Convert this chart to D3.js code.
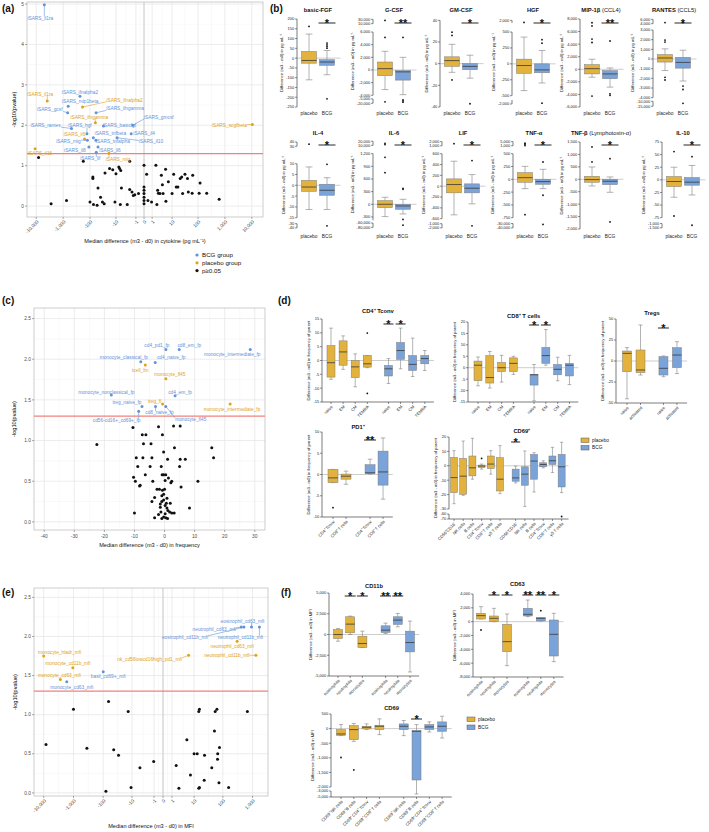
<!DOCTYPE html>
<html><head><meta charset="utf-8">
<script src="https://cdn.jsdelivr.net/npm/d3@7"></script>
<style>body{margin:0;background:#fff} text{font-family:"Liberation Sans",Arial,Helvetica,sans-serif}</style>
</head><body><svg id="c" width="709" height="832"></svg>
<script>
// ================= DATA =================
// (a) cytokine volcano
const aXTicks = [-10000,-1000,-100,-10,-1,0,1,10,100,1000,10000];
const aYTicks = [0,1,2,3,4,5];
const aBlack = [[-8200,1.20],[-2800,0.06],[-750,0.14],[-178,1.11],[-100,0.10],[-74,0.04],[-78,0.72],[-78,0.68],[-54,0.02],[-50,0.45],[-40,0.22],[-34,0.10],[-29,0.06],[-27,0.82],[-18,0.93],[-13.5,0.90],[-11,0.10],[-10,0.80],[-7.6,0.97],[-7.1,0.93],[-6.3,0.88],[-5.9,0.45],[-6.6,0.04],[-3.2,0.04],[-2.4,0.41],[-2.4,1.11],[-1.8,0.35],[-1.5,0.26],[-1.2,0.28],[-0.6,0.31],[0,1.01],[0,0.47],[0,0.39],[0,0.31],[0,0.22],[0,0.14],[0,0.06],[0.25,0.79],[0.4,0.14],[0.9,0.10],[1.76,1.01],[2.2,0.39],[2.4,0.32],[2.0,0.04],[2.9,0.31],[3.4,0.76],[3.8,0.53],[4.1,0.31],[5.3,0.91],[5.5,0.12],[7.0,0.60],[10,0.31],[11.6,0.79],[14.7,0.47],[17,0.47],[21,0.68],[24,0.72],[26,0.31],[32,0.79],[40,0.68],[43,0.35],[60,0.32],[63,0.76],[119,0.57],[110,0.32],[211,0.32],[613,0.17]];
const aBCG = [
 {n:"iSARS_il1ra",x:-5000,y:4.98},{n:"iSARS_ifnalpha2",x:-237,y:2.72},{n:"iSARS_mip1beta",x:-650,y:2.47},
 {n:"iSARS_gcsf",x:-680,y:2.31},{n:"iSARS_ifngamma",x:-59,y:2.31},{n:"iSARS_rantes",x:-490,y:1.92},
 {n:"iSARS_hgf",x:-130,y:1.79},{n:"iSARS_basicfgf",x:-31,y:1.98},{n:"iSARS_gmcsf",x:-1.6,y:2.00},
 {n:"iSARS_il4",x:-2.0,y:1.79},{n:"iSARS_tnfbeta",x:-75,y:1.69},{n:"iSARS_mig",x:-125,y:1.63},
 {n:"iSARS_tnfalpha",x:-60,y:1.63},{n:"iSARS_il10",x:-9,y:1.69},{n:"iSARS_il8",x:-110,y:1.46},
 {n:"iSARS_il6",x:-50,y:1.46},{n:"iSARS_lif",x:-58,y:1.33}];
const aPlacebo = [
 {n:"iSARS_il1ra",x:-3900,y:2.60},{n:"iSARS_ifnalpha2",x:-190,y:2.45},{n:"iSARS_ifngamma",x:-63,y:2.06},
 {n:"iSARS_il6",x:-160,y:1.66},{n:"iSARS_scgfbeta",x:10500,y:2.02},{n:"iSARS_il16",x:-11000,y:1.42},
 {n:"iSARS_mig",x:-19,y:1.31}];

// (b) cytokine box plots
const bNames = ["basic-FGF","G-CSF","GM-CSF","HGF","MIP-1β","RANTES","IL-4","IL-6","LIF","TNF-α","TNF-β","IL-10"];
const bSubs = ["","","","","(CCL4)","(CCL5)","","","","","(Lymphotoxin-α)",""];
const bGroups = ["placebo","BCG"];
const bSegDomains = [
 [[200,-250]],
 [[30000,10000],[6000,-4000],[-5000,-20000]],
 [[40,-40]],
 [[2000,1000],[500,-500],[-1000,-2000]],
 [[8000,-6000]],
 [[6000,4000],[3000,-4000],[-10000,-15000]],
 [[40,30],[10,-15],[-30,-40]],
 [[20000,10000],[1200,-380],[-60000,-80000]],
 [[2000,1000],[600,-600],[-1000,-2000]],
 [[5000,1000],[500,-750],[-30000,-40000]],
 [[1500,-2000]],
 [[75,-75],[-1000,-1500]]];
const bSegTicks = [
 [[200,150,100,50,0,-50,-100,-150,-200,-250]],
 [[30000,10000],[6000,4000,2000,0,-2000,-4000],[-5000,-20000]],
 [[40,20,0,-20,-40]],
 [[2000],[500,250,0,-250,-500],[-2000]],
 [[8000,6000,4000,2000,0,-2000,-4000,-6000]],
 [[6000,4000],[3000,2000,1000,0,-1000,-2000,-3000,-4000],[-10000,-15000]],
 [[40,30],[10,5,0,-5,-10,-15],[-30,-40]],
 [[20000,10000],[1200,900,600,300,0,-300],[-60000,-80000]],
 [[2000,1000],[600,400,200,0,-200,-400,-600],[-1000,-2000]],
 [[5000,1000],[500,250,0,-250,-500,-750],[-30000,-40000]],
 [[1500,1000,500,0,-500,-1000,-1500,-2000]],
 [[75,50,25,0,-25,-50,-75],[-1000,-1500]]];
const bPlacebo = [
 {lo:-111,q1:-26,med:-12,q3:34,hi:123,out:[162]},
 {lo:-3100,q1:-900,med:210,q3:1260,hi:2950,out:[5150,25000,-15000]},
 {lo:-8,q1:-2.5,med:2.8,q3:6.3,hi:17.8,out:[29,26,-15]},
 {lo:-420,q1:-150,med:-26,q3:74,hi:420,out:[1200]},
 {lo:-1260,q1:-740,med:100,q3:740,hi:1600,out:[7400,6900,4800,4260,-4260]},
 {lo:-1190,q1:-315,med:105,q3:455,hi:1050,out:[4500,1960,1750,-1890,-2170]},
 {lo:-11.2,q1:-2.8,med:-0.8,q3:2.3,hi:8.5,out:[35]},
 {lo:-292,q1:-79,med:0,q3:87,hi:166,out:[1114,750,15000,12000]},
 {lo:-529,q1:-123,med:31,q3:135,hi:461,out:[1500]},
 {lo:-182,q1:-58,med:32,q3:130,hi:253,out:[3500,2500,1200,-690]},
 {lo:-268,q1:-120,med:-13,q3:120,hi:495,out:[1300,697]},
 {lo:-34.5,q1:-13.3,med:-3.3,q3:6.6,hi:25,out:[56,-71.6]}];
const bBCG = [
 {lo:-85,q1:-37,med:-20,q3:-8,hi:39,out:[77,68,60,51,-208]},
 {lo:-3900,q1:-1600,med:-300,q3:-100,hi:2000,out:[5150,-8000,-12000,-16000]},
 {lo:-13.4,q1:-5.6,med:-2.5,q3:0,hi:7.8,out:[-37]},
 {lo:-300,q1:-140,med:-95,q3:0,hi:210,out:[380,325,-1800]},
 {lo:-2840,q1:-1500,med:-740,q3:-210,hi:210,out:[4500,-4150,-3900]},
 {lo:-2275,q1:-945,med:-350,q3:175,hi:910,out:[4500,-2800,-3150,-12000]},
 {lo:-11.2,q1:-4.6,med:-2.3,q3:0.5,hi:3.5,out:[9.7,-35]},
 {lo:-229,q1:-118,med:-40,q3:0,hi:118,out:[355,379,-360,-70000]},
 {lo:-326,q1:-123,med:-37,q3:43,hi:215,out:[473,-1500]},
 {lo:-182,q1:-97,med:-45,q3:0,hi:195,out:[338,-312,-32000]},
 {lo:-523,q1:-214,med:-80,q3:0,hi:94,out:[830,-1715]},
 {lo:-30,q1:-10.6,med:-4.6,q3:4.6,hi:28.5,out:[46,-1200]}];
const bSig = ["*","**","*","*","**","*","*","*","*","*","*","*"];

// (c) cell frequency volcano
const cXTicks = [-40,-30,-20,-10,0,10,20,30];
const cYTicks = [0,0.5,1,1.5,2,2.5];
const cBlack = [[-22.5,0.95],[-10.5,1.16],[-7.4,1.07],[-6.2,1.07],[-7.0,0.96],[-4.5,0.96],[-9.4,0.79],[-7.2,0.79],[-4.2,0.79],[-2.0,1.17],[-0.7,1.07],[3.0,1.18],[5.2,1.18],[-8.9,0.68],[-4.8,0.68],[-1.1,0.68],[-0.3,0.86],[1.0,0.77],[3.3,0.91],[5.2,0.77],[6.9,0.77],[5.0,0.68],[-6.4,0.58],[-10.3,0.55],[-9.7,0.50],[-8.1,0.45],[-8.3,0.44],[-3.9,0.50],[-0.8,0.58],[0.4,0.58],[1.3,0.54],[2.1,0.48],[2.4,0.50],[11.1,0.50],[5.5,0.43],[15.7,0.91],[16.3,0.79],[-10.0,0.11],[-4.2,0.25],[-3.3,0.30],[-2.5,0.40],[-1.7,0.40],[-0.9,0.32],[-0.3,0.34],[0,0.40],[-1.4,0.22],[-0.9,0.25],[-0.3,0.27],[0.2,0.20],[0.8,0.17],[1.1,0.14],[0.2,0.10],[-0.3,0.06],[-0.9,0.04],[0.4,0.05],[1.0,0.04],[-3.3,0.05],[-2.0,0.09],[-1.4,0.18],[1.7,0.12],[2.4,0.11],[3.2,0.11],[8.3,0.17],[1.9,0.23],[-0.7,0.39],[0.8,0.29],[0.6,0.23],[-1.2,0.12],[-0.3,0.58],[0.2,0.51]];
const cBCG = [
 {n:"cd4_pd1_fp",x:0.44,y:2.12},{n:"cd8_em_fp",x:4.9,y:2.12},{n:"monocyte_intermediate_fp",x:28.5,y:2.12},
 {n:"monocyte_classical_fp",x:-7.9,y:1.97},{n:"cd4_naive_fp",x:-3.1,y:1.96},{n:"monocyte_nonclassical_fp",x:-17.7,y:1.56},
 {n:"cd4_em_fp",x:3.5,y:1.55},{n:"treg_naive_fp",x:-7.5,y:1.42},{n:"cd8_naive_fp",x:-3.0,y:1.42},
 {n:"monocyte_fl45",x:0.4,y:1.42},{n:"cd56-cd16+_cd69+_fp",x:-8.6,y:1.36}];
const cPlacebo = [
 {n:"tcell_fm",x:-6.4,y:1.93},{n:"monocyte_fl45",x:0.44,y:1.76},{n:"treg_fl",x:-0.66,y:1.45},
 {n:"monocyte_intermediate_fp",x:21.8,y:1.45}];

// (d) cell frequency box plots
const dCats4 = ["naive","EM","CM","TEMRA"];
const dCatsTreg = ["naive","activated"];
const dCatsPD1 = ["CD4⁺ Tconv","CD8⁺ T cells"];
const dCatsCD69 = ["CD56⁺CD16⁻","NK cells","B cells","CD4⁺ Tconv","CD8⁺ T cells","γδ T cells"];
const dCD4P = [{lo:-6.8,q1:-6,med:-0.8,q3:5.4,hi:11.7},{lo:-3.2,q1:-1.7,med:3.1,q3:7.1,hi:8.9},{lo:-9.5,q1:-6.2,med:-2.3,q3:0,hi:2.4},{lo:-2.6,q1:-2.4,med:-1.2,q3:1.8,hi:1.8,out:[9.9,-11.9]}];
const dCD4B = [{lo:-8.3,q1:-5.6,med:-3,q3:-1.8,hi:0.7},{lo:-3,q1:0.4,med:3.6,q3:6.5,hi:11.7},{lo:-5.8,q1:-3.6,med:-1.4,q3:1.8,hi:8.1},{lo:-3.6,q1:-1.2,med:0.7,q3:1.8,hi:3.6}];
const dCD8P = [{lo:-7.9,q1:-5.7,med:1.1,q3:2.9,hi:4.7},{lo:-8.9,q1:-6.7,med:-4.3,q3:5.3,hi:7.1},{lo:-6.3,q1:-1.7,med:0,q3:2.3,hi:5.4},{lo:-2.9,q1:-1.7,med:1.9,q3:4.3,hi:5}];
const dCD8B = [{lo:-14.5,q1:-7.6,med:-3.1,q3:-2.9,hi:1.4},{lo:1.1,q1:1.9,med:5.3,q3:8.9,hi:16.7},{lo:-5.7,q1:-3.1,med:-0.7,q3:1.4,hi:4.6},{lo:-7.4,q1:-3.6,med:1.1,q3:1.9,hi:5.4}];
const dTregP = [{lo:-45,q1:-12.7,med:9.1,q3:11.9,hi:15.9},{lo:-16.7,q1:-13.9,med:-10.7,q3:13.1,hi:42.9}];
const dTregB = [{lo:-18.7,q1:-16.7,med:-8.7,q3:5.2,hi:6},{lo:-15,q1:-7.9,med:7.1,q3:15.9,hi:23}];
const dPD1P = [{lo:-1.9,q1:-1.9,med:-0.8,q3:1.2,hi:1.2,out:[-7.8]},{lo:-2.3,q1:-1.1,med:-0.4,q3:0.1,hi:0.8}];
const dPD1B = [{lo:0.1,q1:0.2,med:0.4,q3:2.3,hi:3.6},{lo:-5.8,q1:-2.5,med:0.6,q3:5.5,hi:8.6}];
const dCD69P = [{lo:-26.3,q1:-18.6,med:-8.2,q3:5.8,hi:10.5},{lo:-20.5,q1:-19.8,med:-7.2,q3:5.1,hi:17.2},{lo:-9.3,q1:-7,med:-1.4,q3:6.8,hi:19.1},{lo:-2.3,q1:-1.2,med:-0.2,q3:0.5,hi:1.2,out:[5.1]},{lo:-5.8,q1:-1.9,med:1.2,q3:6.8,hi:10.5},{lo:-19.3,q1:-17.5,med:-9.3,q3:5.6,hi:14}];
const dCD69B = [{lo:-11.9,q1:-10.7,med:-8.4,q3:-2.3,hi:-0.2},{lo:-28.2,q1:-13.5,med:-5.8,q3:-0.7,hi:10.3},{lo:-18.2,q1:-9.3,med:3.3,q3:7.9,hi:9.1},{lo:-1.4,q1:-0.7,med:0.9,q3:2.1,hi:3.5},{lo:-4.7,q1:0.9,med:3.5,q3:6.8,hi:12.8},{lo:-18.6,q1:-14.7,med:-0.7,q3:7.9,hi:16.3,out:[-65]}];

// (e) MFI volcano
const eXTicks = [-10000,-1000,-100,-10,-1,0,1,10,100,1000];
const eYTicks = [0,0.5,1,1.5,2,2.5];
const eBlack = [[-8350,0.62],[-1000,1.07],[-355,0.57],[-81,0.02],[-66,1.17],[-44,0.55],[-30,0.48],[-13.7,1.04],[-10.8,0.07],[-4.95,0.32],[-1.05,0.40],[1.76,0.35],[2.4,0.06],[5.3,0.68],[7.3,0.23],[10,0.50],[13,0.50],[14.8,1.04],[15.6,1.07],[14.8,0.06],[15.6,0.07],[23,0.16],[23.6,0.48],[42,0.32],[52,0.79],[55,1.04],[63,1.07],[66,0.43],[67,0.50],[77,0.58],[74,0.13],[157,0.07],[670,1.04]];
const eBCG = [
 {n:"eosinophil_cd63_mfi",x:922,y:2.12},{n:"neutrophil_cd63_mfi",x:417,y:2.12},{n:"eosinophil_cd11b_mfi",x:515,y:2.12},
 {n:"neutrophil_cd11b_mfi",x:1700,y:2.12},{n:"basil_cd69+_mfi",x:-100,y:1.55},{n:"monocyte_cd63_mfi",x:-1680,y:1.42}];
const ePlacebo = [
 {n:"monocyte_hladr_mfi",x:-10000,y:1.75},{n:"monocyte_cd11b_mfi",x:-1050,y:1.60},{n:"monocyte_cd63_mfi",x:-2750,y:1.45},
 {n:"nk_cd56lowcd16high_pd1_mfi",x:6.2,y:1.76},{n:"neutrophil_cd63_mfi",x:304,y:1.94},{n:"neutrophil_cd11b_mfi",x:1300,y:1.76}];

// (f) MFI box plots
const fCats3 = ["eosinophils","neutrophils","monocytes"];
const fCatsCD69 = ["CD69⁺ NK cells","CD69⁺ B cells","CD69⁺ CD4⁺ Tconv","CD69⁺ CD8⁺ T cells"];
const fCD11bP = [{lo:-806,q1:-484,med:0,q3:605,hi:726},{lo:0,q1:202,med:1250,q3:2136,hi:2217},{lo:-1572,q1:-1572,med:-1088,q3:-202,hi:403}];
const fCD11bB = [{lo:121,q1:242,med:524,q3:1048,hi:1370},{lo:927,q1:1209,med:1733,q3:2136,hi:2539},{lo:-4514,q1:-2096,med:-967,q3:403,hi:1612}];
const fCD63P = [{lo:386,q1:386,med:868,q3:1205,hi:2170,out:[-1205]},{lo:0,q1:0,med:482,q3:820,hi:1930},{lo:-6360,q1:-4340,med:-2890,q3:-386,hi:1108}];
const fCD63B = [{lo:723,q1:820,med:1060,q3:1930,hi:3130},{lo:96,q1:96,med:482,q3:578,hi:578,out:[1590]},{lo:-5780,q1:-4965,med:-1830,q3:241,hi:1205}];
const fCD69P = [{lo:-241,q1:-230,med:-184,q3:-35,hi:138,out:[-989]},{lo:-437,q1:-380,med:-35,q3:104,hi:172,out:[-1415]},{lo:-35,q1:-12,med:46,q3:80,hi:161},{lo:-207,q1:-35,med:80,q3:115,hi:333}];
const fCD69B = [{lo:-241,q1:-35,med:80,q3:161,hi:276},{lo:-4000,q1:-1760,med:-92,q3:-69,hi:138},{lo:-115,q1:-35,med:57,q3:138,hi:230},{lo:-322,q1:-92,med:80,q3:230,hi:425}];

// ================= LAYOUT / STYLE =================
const BLUE = "#6393d9", ORANGE = "#e0a21b";
const BOXP = "#e2b23c", BOXB = "#7aa3d9";
const loc = d3.formatLocale({decimal:".",thousands:",",grouping:[3],currency:["",""],minus:"-"});
const fmtC = loc.format(","), fmt1 = loc.format(".1f");
const svg = d3.select("#c");
const TFS = 4.0;

const aOff = {"b:iSARS_il1ra":[-4,13],"b:iSARS_ifnalpha2":[0,-4],"b:iSARS_mip1beta":[12,-5],"b:iSARS_gcsf":[-18,-3],"b:iSARS_ifngamma":[29,-4],"b:iSARS_rantes":[-26,-3],"b:iSARS_hgf":[-7,-8],"b:iSARS_basicfgf":[16,-1],"b:iSARS_gmcsf":[26,-8],"b:iSARS_il4":[13,0],"b:iSARS_tnfbeta":[17,-4],"b:iSARS_mig":[-19,1],"b:iSARS_tnfalpha":[17,1],"b:iSARS_il10":[34,4],"b:iSARS_il8":[-14,3],"b:iSARS_il6":[12,3],"b:iSARS_lif":[-6,6],
 "p:iSARS_il1ra":[-7,-7],"p:iSARS_ifnalpha2":[42,-7],"p:iSARS_ifngamma":[-6,-6],"p:iSARS_il6":[-10,-5],"p:iSARS_scgfbeta":[-23,1],"p:iSARS_il16":[5,5],"p:iSARS_mig":[9,6]};
const cOff = {"b:cd4_pd1_fp":[-9,-4],"b:cd8_em_fp":[10,-4],"b:monocyte_intermediate_fp":[-18,5],"b:monocyte_classical_fp":[-17,-4],"b:cd4_naive_fp":[16,-5],"b:monocyte_nonclassical_fp":[-5,-3],"b:cd4_em_fp":[5,-4],"b:treg_naive_fp":[-15,-4],"b:cd8_naive_fp":[4,6],"b:monocyte_fl45":[25,13],"b:cd56-cd16+_cd69+_fp":[-22,9],
 "p:tcell_fm":[-5,5],"p:monocyte_fl45":[4,-4],"p:treg_fl":[-8,-3],"p:monocyte_intermediate_fp":[2,5]};
const eOff = {"b:eosinophil_cd63_mfi":[-9,-6],"b:neutrophil_cd63_mfi":[-27,2],"b:eosinophil_cd11b_mfi":[-59,10],"b:neutrophil_cd11b_mfi":[-19,10],"b:basil_cd69+_mfi":[5,5],"b:monocyte_cd63_mfi":[5,5],
 "p:monocyte_hladr_mfi":[16,-4],"p:monocyte_cd11b_mfi":[-5,-4],"p:monocyte_cd63_mfi":[-1,-4],"p:nk_cd56lowcd16high_pd1_mfi":[-39,4],"p:neutrophil_cd63_mfi":[-5,5],"p:neutrophil_cd11b_mfi":[-29,0]};

function ln(g,x1,y1,x2,y2,c,w){return g.append("line").attr("x1",x1).attr("y1",y1).attr("x2",x2).attr("y2",y2).attr("stroke",c).attr("stroke-width",w);}
function txt(g,x,y,s,fs,opt){opt=opt||{};const t=g.append("text").attr("x",x).attr("y",y).attr("font-size",fs).attr("fill",opt.fill||"#111").attr("text-anchor",opt.anchor||"start").text(s);if(opt.bold)t.attr("font-weight","bold");if(opt.dy)t.attr("dy",opt.dy);return t;}

function volcano(o){
  const g = svg.append("g");
  const [xl,xr] = o.x.range(), [yb,yt] = o.y.range();
  g.append("rect").attr("x",xl).attr("y",yt).attr("width",xr-xl).attr("height",yb-yt).attr("fill","#fff");
  d3.pairs(o.xTicks).forEach(([a,b])=>{const v=o.x.invert((o.x(a)+o.x(b))/2); ln(g,o.x(v),yt,o.x(v),yb,"#f2f2f2",0.5);});
  d3.pairs(o.yTicks).forEach(([a,b])=>{const y=(o.y(a)+o.y(b))/2; ln(g,xl,y,xr,y,"#f2f2f2",0.5);});
  o.xTicks.forEach(v=>ln(g,o.x(v),yt,o.x(v),yb,"#e4e4e4",0.7));
  o.yTicks.forEach(v=>ln(g,xl,o.y(v),xr,o.y(v),"#e4e4e4",0.7));
  if(o.vline0) ln(g,o.x(0),yt,o.x(0),yb,"#c4c4c4",0.8);
  g.append("rect").attr("x",xl).attr("y",yt).attr("width",xr-xl).attr("height",yb-yt).attr("fill","none").attr("stroke","#b8b8b8").attr("stroke-width",0.7);
  ln(g,xl,o.y(1.3),xr,o.y(1.3),"#f3807b",1.3);
  o.yTicks.forEach(v=>{ln(g,xl-2,o.y(v),xl,o.y(v),"#555",0.5); txt(g,xl-3,o.y(v),o.yFmt(v),4.8,{anchor:"end",dy:"0.35em",fill:"#4d4d4d"});});
  o.xTicks.forEach(v=>{const x=o.x(v); ln(g,x,yb,x,yb+2,"#555",0.5);
    if(o.rotX) g.append("text").attr("transform",`translate(${x+1.5},${yb+4}) rotate(-45)`).attr("text-anchor","end").attr("dy","0.35em").attr("font-size",4.8).attr("fill","#4d4d4d").text(fmtC(v));
    else txt(g,x,yb+7.5,fmtC(v),4.8,{anchor:"middle",fill:"#4d4d4d"});});
  txt(g,(xl+xr)/2,o.xtY,o.xtitle,5.6,{anchor:"middle"});
  g.append("text").attr("transform",`translate(${o.ytX},${(yt+yb)/2}) rotate(-90)`).attr("text-anchor","middle").attr("font-size",5.6).text("-log10(pvalue)");
  o.black.forEach(([x,y])=>g.append("circle").attr("cx",o.x(x)).attr("cy",o.y(y)).attr("r",1.5).attr("fill","#111"));
  const groups=[["b",o.bcg,BLUE],["p",o.pla,ORANGE]];
  groups.forEach(([k,arr,col])=>arr.forEach(d=>g.append("circle").attr("cx",o.x(d.x)).attr("cy",o.y(d.y)).attr("r",1.5).attr("fill",col)));
  groups.forEach(([k,arr,col])=>arr.forEach(d=>{
    const px=o.x(d.x), py=o.y(d.y), off=o.off[k+":"+d.n]||[0,-5];
    const t=txt(g,px+off[0],py+off[1],d.n,4.8,{anchor:"middle",dy:"0.35em",fill:col});
    const bb=t.node().getBBox();
    const cx=Math.max(bb.x,Math.min(px,bb.x+bb.width)), cy=Math.max(bb.y+1,Math.min(py,bb.y+bb.height-1));
    if(Math.hypot(cx-px,cy-py)>4) ln(g,px,py,cx,cy,col,0.6);
  }));
}

function boxChart(o){
  const g = svg.append("g");
  const segs = o.segs.map(s=>({d:s.d,t:s.t,r:s.r,sc:d3.scaleLinear().domain(s.d).range(s.r)}));
  const yOf = v=>{let best=segs[0],bd=Infinity;segs.forEach(s=>{const lo=Math.min(...s.d),hi=Math.max(...s.d);const dd=v<lo?lo-v:v>hi?v-hi:0;if(dd<bd){bd=dd;best=s;}});return best.sc.copy().clamp(true)(v);};
  const xs = d3.scaleLinear().domain([0,1]).range([o.first,o.first+o.step]);
  const n = o.P.length;
  const cx = (grp,i)=>xs(grp===0?i:o.gap+i);
  const xEnd = cx(1,n-1)+o.step*0.75;
  const axBottom = segs[segs.length-1].r[1];
  ln(g,o.ax,yOf(0),xEnd,yOf(0),"#ababab",0.6);
  let maxW=0;
  segs.forEach(s=>{
    ln(g,o.ax,s.r[0],o.ax,s.r[1],"#222",0.6);
    s.t.forEach(t=>{const y=s.sc(t); ln(g,o.ax-2,y,o.ax,y,"#222",0.5);
      const tt=txt(g,o.ax-2.8,y,fmtC(t),TFS,{anchor:"end",dy:"0.35em",fill:"#222"});
      maxW=Math.max(maxW,tt.node().getComputedTextLength());});
  });
  const yMid=(segs[0].r[0]+axBottom)/2;
  g.append("text").attr("transform",`translate(${o.ax-2.8-maxW-3},${yMid}) rotate(-90)`).attr("text-anchor","middle").attr("font-size",4.2).attr("fill","#222").text(o.ytitle);
  if(o.xaxis){ ln(g,o.ax,axBottom,xEnd,axBottom,"#222",0.6); }
  [o.P,o.B].forEach((arr,grp)=>arr.forEach((st,i)=>{
    const x=cx(grp,i), hw=o.bw/2, fill=grp===0?BOXP:BOXB;
    ln(g,x,yOf(st.hi),x,yOf(st.q3),"#808080",0.6);
    ln(g,x,yOf(st.q1),x,yOf(st.lo),"#808080",0.6);
    ln(g,x-hw*0.45,yOf(st.hi),x+hw*0.45,yOf(st.hi),"#808080",0.6);
    ln(g,x-hw*0.45,yOf(st.lo),x+hw*0.45,yOf(st.lo),"#808080",0.6);
    g.append("rect").attr("x",x-hw).attr("y",yOf(st.q3)).attr("width",o.bw).attr("height",Math.max(0.6,yOf(st.q1)-yOf(st.q3))).attr("fill",fill).attr("stroke","#7c7c7c").attr("stroke-width",0.5);
    ln(g,x-hw,yOf(st.med),x+hw,yOf(st.med),"#3a3a3a",0.8);
    (st.out||[]).forEach(v=>g.append("circle").attr("cx",x).attr("cy",yOf(v)).attr("r",0.9).attr("fill","#111"));
    if(o.xaxis){ ln(g,x,axBottom,x,axBottom+2,"#222",0.5);
      g.append("text").attr("transform",`translate(${x+1},${axBottom+4}) rotate(-45)`).attr("text-anchor","end").attr("dy","0.35em").attr("font-size",4.2).attr("fill","#222").text(o.cats[i]); }
    else txt(g,x,o.labY,o.cats[grp],4.8,{anchor:"middle",fill:"#222"});
  }));
  (o.sig||[]).forEach(s=>{const x=cx(s.g,s.i); ln(g,x-o.bw/2-1,o.sigY,x+o.bw/2+1,o.sigY,"#111",0.9); txt(g,x,o.sigY+3.6,s.s,11,{anchor:"middle",bold:true});});
  const tc=(cx(0,0)+cx(1,n-1))/2+(o.tdx||0);
  const tt=txt(g,tc,o.titleY,"",5.8,{anchor:"middle",bold:true});
  tt.append("tspan").text(o.title);
  if(o.sub) tt.append("tspan").attr("font-weight","normal").text(" "+o.sub);
}

[["(a)",2,12],["(b)",270,12],["(c)",2,304],["(d)",278,304],["(e)",2,596],["(f)",281,596]].forEach(([s,x,y])=>txt(svg,x,y,s,10,{bold:true}));

volcano({x:d3.scaleSymlog().constant(1).domain([-22000,26000]).range([27,263]), y:d3.scaleLinear().domain([-0.27,5.05]).range([217,2]),
  xTicks:aXTicks,yTicks:aYTicks,yFmt:d3.format("d"),rotX:true,vline0:true,black:aBlack,bcg:aBCG,pla:aPlacebo,off:aOff,
  xtitle:"Median difference (m3 - d0) in cytokine (pg mL⁻¹)",xtY:243,ytX:16});
[["BCG group",BLUE],["placebo group",ORANGE],["p≥0.05","#111"]].forEach(([s,c],i)=>{
  svg.append("circle").attr("cx",197).attr("cy",255+i*7.8).attr("r",1.6).attr("fill",c);
  txt(svg,202,255+i*7.8,s,6.2,{dy:"0.35em"});});

const bAxisX=[297,373,440,512,580,653,297,373,442,513,580,662];
const bSegLayout=[[[0,88]],[[0.3,4.7],[13,76.3],[79.9,84.3]],[[1.3,88]],[[1.3,4],[13,76.7],[81,85]],[[0,88]],[[0.3,4.7],[11,78.7],[82.3,87.3]],
 [[0,4.3],[21.7,75.7],[81.7,85.9]],[[-0.8,3.4],[11.7,78.3],[81,85.4]],[[-0.4,3.8],[11.7,76.7],[81.7,85.9]],[[-0.4,3.8],[11.7,75.7],[81.5,85.9]],[[0,87]],[[0,75.7],[81.5,85.9]]];
bNames.forEach((nm,k)=>{
  const top = k<6?19:142;
  boxChart({title:nm,sub:bSubs[k],ax:bAxisX[k],
    segs:bSegDomains[k].map((d,j)=>({d:d,t:bSegTicks[k][j],r:bSegLayout[k][j].map(v=>v+top)})),
    P:[bPlacebo[k]],B:[bBCG[k]],cats:bGroups,first:bAxisX[k]+12,step:18,gap:1,bw:15,
    sig:[{g:1,i:0,s:bSig[k]}],sigY:top+(k<6?4:3),titleY:top-7,labY:top+96,
    ytitle:"Difference (m3 - m0) in pg mL⁻¹",xaxis:false});
});

volcano({x:d3.scaleLinear().domain([-43.4,33.4]).range([34,265]), y:d3.scaleLinear().domain([-0.10,2.63]).range([530,308]),
  xTicks:cXTicks,yTicks:cYTicks,yFmt:fmt1,rotX:false,vline0:false,black:cBlack,bcg:cBCG,pla:cPlacebo,off:cOff,
  xtitle:"Median difference (m3 - d0) in frequency",xtY:547,ytX:16});

const dY="Difference (m3 - m0) in frequency of parent";
boxChart({title:"CD4⁺ Tconv",ax:322,segs:[{d:[15,-15],t:[15,10,5,0,-5,-10,-15],r:[319,402]}],P:dCD4P,B:dCD4B,cats:dCats4,first:331,step:12.1,gap:4.75,bw:8,
  sig:[{g:1,i:0,s:"*"},{g:1,i:1,s:"*"}],sigY:324,titleY:313,ytitle:dY,xaxis:true});
boxChart({title:"CD8⁺ T cells",ax:468,segs:[{d:[20,-15],t:[20,15,10,5,0,-5,-10,-15],r:[322,402]}],P:dCD8P,B:dCD8B,cats:dCats4,first:478,step:11.8,gap:4.75,bw:8,
  sig:[{g:1,i:0,s:"*"},{g:1,i:1,s:"*"}],sigY:325,titleY:318,ytitle:dY,xaxis:true});
boxChart({title:"Tregs",ax:616,segs:[{d:[50,-50],t:[50,25,0,-25,-50],r:[319,403]}],P:dTregP,B:dTregB,cats:dCatsTreg,first:627,step:13.5,gap:2.7,bw:9,
  sig:[{g:1,i:0,s:"*"}],sigY:328,titleY:315,ytitle:dY,xaxis:true});
boxChart({title:"PD1⁺",ax:322,segs:[{d:[10,-10],t:[10,5,0,-5,-10],r:[432,517]}],P:dPD1P,B:dPD1B,cats:dCatsPD1,first:333,step:13,gap:2.85,bw:10,
  sig:[{g:1,i:0,s:"**"}],sigY:440,titleY:429,ytitle:dY,xaxis:true});
boxChart({title:"CD69⁺",ax:449,segs:[{d:[20,-30],t:[20,10,0,-10,-20,-30],r:[437,509]},{d:[-60,-70],t:[-60,-70],r:[514,519]}],P:dCD69P,B:dCD69B,cats:dCatsCD69,first:454,step:9.2,gap:6.7,bw:7,
  sig:[{g:1,i:0,s:"*"}],sigY:442,titleY:433,tdx:14,ytitle:dY,xaxis:true});
[["placebo",BOXP],["BCG",BOXB]].forEach(([s,c],i)=>{
  svg.append("rect").attr("x",581).attr("y",438+i*7.5).attr("width",8).attr("height",4.5).attr("fill",c).attr("stroke","#555").attr("stroke-width",0.5);
  txt(svg,592,440.3+i*7.5,s,4.8,{dy:"0.35em"});});

volcano({x:d3.scaleSymlog().constant(1).domain([-21100,3300]).range([34,268]), y:d3.scaleLinear().domain([-0.04,2.62]).range([796,588]),
  xTicks:eXTicks,yTicks:eYTicks,yFmt:fmt1,rotX:true,vline0:true,black:eBlack,bcg:eBCG,pla:ePlacebo,off:eOff,
  xtitle:"Median difference (m3 - d0) in MFI",xtY:828,ytX:17});

const fY="Difference (m3 - m0) in MFI";
boxChart({title:"CD11b",ax:329,segs:[{d:[5000,-5000],t:[5000,2500,0,-2500,-5000],r:[593,676]}],P:fCD11bP,B:fCD11bB,cats:fCats3,first:338,step:12.2,gap:3.9,bw:9,
  sig:[{g:0,i:1,s:"*"},{g:0,i:2,s:"*"},{g:1,i:0,s:"**"},{g:1,i:1,s:"**"}],sigY:596,titleY:588,ytitle:fY,xaxis:true});
boxChart({title:"CD63",ax:473,segs:[{d:[4000,-8000],t:[4000,2000,0,-2000,-4000,-6000,-8000],r:[594,677]}],P:fCD63P,B:fCD63B,cats:fCats3,first:481,step:13,gap:3.6,bw:9,
  sig:[{g:0,i:1,s:"*"},{g:0,i:2,s:"*"},{g:1,i:0,s:"**"},{g:1,i:1,s:"**"},{g:1,i:2,s:"*"}],sigY:595,titleY:586,ytitle:fY,xaxis:true});
boxChart({title:"CD69",ax:331,segs:[{d:[500,-2000],t:[500,0,-500,-1000,-1500,-2000],r:[714,787]},{d:[-3000,-5000],t:[-3000,-5000],r:[791,797]}],P:fCD69P,B:fCD69B,cats:fCatsCD69,first:341,step:12.8,gap:4.9,bw:9,
  sig:[{g:1,i:1,s:"*"}],sigY:719,titleY:710,ytitle:fY,xaxis:true});
[["placebo",BOXP],["BCG",BOXB]].forEach(([s,c],i)=>{
  svg.append("rect").attr("x",467).attr("y",717+i*8).attr("width",8).attr("height",4.5).attr("fill",c).attr("stroke","#555").attr("stroke-width",0.5);
  txt(svg,478,719.3+i*8,s,4.8,{dy:"0.35em"});});
</script></body></html>
